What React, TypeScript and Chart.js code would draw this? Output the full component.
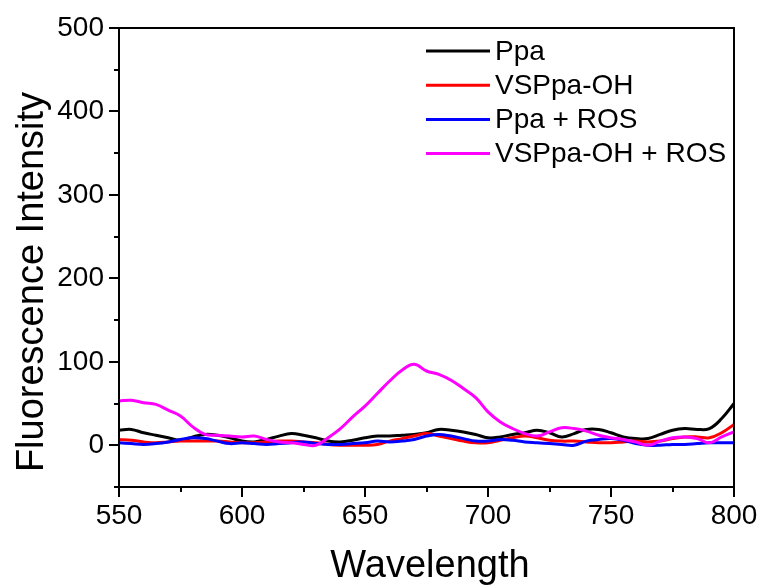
import { useEffect, useRef } from "react";
import { Chart, registerables } from "chart.js";

Chart.register(...registerables);

const wavelengths = [
  550, 555, 560, 565, 570, 575, 580, 585, 590, 595, 600, 605, 610, 615, 620, 625, 630,
  635, 640, 645, 650, 655, 660, 665, 670, 675, 680, 685, 690, 695, 700, 705, 710, 715,
  720, 725, 730, 735, 740, 745, 750, 755, 760, 765, 770, 775, 780, 785, 790, 795, 800,
];

const ppa = [
  18, 19, 15, 12, 9, 6, 10, 13, 12, 9, 5, 4, 7, 11, 14, 12, 9,
  5, 4, 6, 9, 11, 11, 12, 13, 15, 19, 18, 16, 13, 9, 10, 13, 15,
  18, 15, 10, 14, 19, 19, 15, 10, 8, 8, 13, 18, 20, 19, 20, 32, 50,
];

const vsppaOH = [
  7, 6, 4, 3, 4, 5, 5, 5, 5, 4, 3, 3, 4, 5, 5, 4, 3,
  1, 0, 0, 0, 1, 5, 8, 11, 14, 11, 8, 5, 3, 3, 6, 9, 11,
  9, 6, 5, 5, 4, 3, 3, 4, 5, 4, 5, 8, 10, 10, 9, 15, 25,
];

const ppaROS = [
  3, 2, 1, 2, 4, 7, 9, 8, 5, 2, 3, 2, 1, 2, 3, 4, 2,
  1, 1, 2, 3, 5, 4, 5, 7, 11, 13, 11, 8, 5, 5, 7, 6, 4,
  3, 2, 1, 0, 5, 7, 8, 6, 2, 0, 0, 1, 1, 2, 3, 3, 3,
];

const vsppaOHROS = [
  53, 54, 51, 49, 42, 35, 22, 13, 12, 11, 10, 11, 7, 4, 3, 1, 0,
  9, 20, 34, 47, 62, 77, 90, 97, 89, 85, 78, 68, 57, 40, 28, 20, 14,
  11, 16, 21, 20, 17, 12, 9, 7, 4, 0, 5, 9, 10, 8, 3, 10, 16,
];

const seriesLabels = ["Ppa", "VSPpa-OH", "Ppa + ROS", "VSPpa-OH + ROS"];
const seriesColors = ["#000000", "#ff0000", "#0000ff", "#ff00ff"];
const seriesValues = [ppa, vsppaOH, ppaROS, vsppaOHROS];

const xTitle = "Wavelength";
const yTitle = "Fluorescence Intensity";

const FONT = "'Liberation Sans', Arial, Helvetica, sans-serif";

const framePlugin = {
  id: "frameAndTicks",
  afterDraw(chart: any) {
    const { ctx, chartArea } = chart;
    const { left, right, top, bottom } = chartArea;
    ctx.save();
    ctx.strokeStyle = "#000";
    ctx.lineWidth = 2;
    ctx.lineCap = "butt";
    ctx.strokeRect(left, top, right - left, bottom - top);
    const xs = chart.scales.x;
    xs.ticks.forEach((t: any) => {
      const px = Math.round(xs.getPixelForValue(t.value));
      const len = t.label === "" ? 5 : 10;
      ctx.beginPath();
      ctx.moveTo(px, bottom);
      ctx.lineTo(px, bottom + len);
      ctx.stroke();
    });
    const ys = chart.scales.y;
    ys.ticks.forEach((t: any) => {
      const py = Math.round(ys.getPixelForValue(t.value));
      const len = t.label === "" ? 5 : 10;
      ctx.beginPath();
      ctx.moveTo(left, py);
      ctx.lineTo(left - len, py);
      ctx.stroke();
    });

    // axis titles
    ctx.fillStyle = "#000";
    ctx.font = `38px ${FONT}`;
    ctx.textAlign = "center";
    ctx.textBaseline = "alphabetic";
    ctx.fillText(xTitle, 430, 577);
    ctx.translate(43, 282);
    ctx.rotate(-Math.PI / 2);
    ctx.fillText(yTitle, 0, 0);
    ctx.restore();
  },
};

const legendPlugin = {
  id: "customLegend",
  afterDraw(chart: any) {
    const { ctx } = chart;
    ctx.save();
    ctx.font = `28px ${FONT}`;
    ctx.textBaseline = "middle";
    ctx.textAlign = "left";
    chart.data.datasets.forEach((ds: any, i: number) => {
      const y = 51 + i * 34.2;
      ctx.strokeStyle = ds.borderColor;
      ctx.lineWidth = 3;
      ctx.beginPath();
      ctx.moveTo(426, y);
      ctx.lineTo(490, y);
      ctx.stroke();
      ctx.fillStyle = "#000";
      ctx.fillText(ds.label, 495, y + 1);
    });
    ctx.restore();
  },
};

export default function App() {
  const ref = useRef<HTMLCanvasElement>(null);

  useEffect(() => {
    const canvas = ref.current;
    if (!canvas) return;
    const datasets = seriesLabels.map((label, i) => ({
      label,
      data: wavelengths.map((w, j) => ({ x: w, y: seriesValues[i][j] })),
      borderColor: seriesColors[i],
      backgroundColor: seriesColors[i],
      borderWidth: 3,
      pointRadius: 0,
      tension: 0.4,
      fill: false,
      order: 4 - i,
    }));

    const chart = new Chart(canvas, {
      type: "line",
      data: { datasets },
      options: {
        responsive: false,
        animation: false,
        layout: { padding: { left: 0, top: 28, right: 28, bottom: 0 } },
        plugins: { legend: { display: false }, tooltip: { enabled: false } },
        scales: {
          x: {
            type: "linear",
            min: 550,
            max: 800,
            afterFit: (s: any) => {
              s.height = 99;
            },
            border: { display: false },
            grid: {
              drawOnChartArea: false,
              drawTicks: true,
              tickLength: 10,
              color: "rgba(0,0,0,0)",
            },
            ticks: {
              stepSize: 25,
              autoSkip: false,
              maxRotation: 0,
              padding: 2,
              color: "#000",
              font: { family: FONT, size: 28 },
              callback: (v: any) => (Number(v) % 50 === 0 ? String(v) : ""),
            },
            title: { display: false },
          },
          y: {
            type: "linear",
            min: -50,
            max: 500,
            afterFit: (s: any) => {
              s.width = 119;
            },
            border: { display: false },
            grid: {
              drawOnChartArea: false,
              drawTicks: true,
              tickLength: 10,
              color: "rgba(0,0,0,0)",
            },
            ticks: {
              stepSize: 50,
              autoSkip: false,
              padding: 5,
              color: "#000",
              font: { family: FONT, size: 28 },
              callback: (v: any) =>
                Number(v) % 100 === 0 && Number(v) >= 0 ? String(v) : "",
            },
            title: { display: false },
          },
        },
      },
      plugins: [framePlugin, legendPlugin],
    });
    return () => chart.destroy();
  }, []);

  return (
    <div
      style={{
        position: "fixed",
        left: 0,
        top: 0,
        width: 762,
        height: 586,
        background: "#fff",
      }}
    >
      <canvas
        ref={ref}
        width={762}
        height={586}
        style={{ display: "block", width: 762, height: 586 }}
      />
    </div>
  );
}
